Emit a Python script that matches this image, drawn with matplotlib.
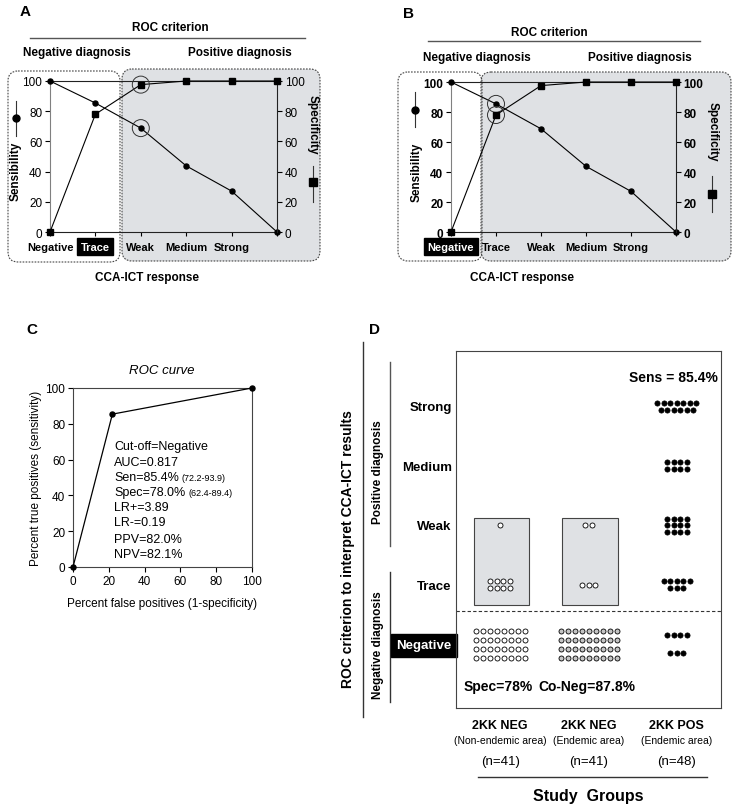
"""
CCA-ICT: ROC criterion panels (A, B), ROC curve (C) and dot plot by study group (D).
"""

import math

import matplotlib

matplotlib.use("Agg")
import matplotlib.pyplot as plt
import matplotlib.patches as mpatches
import numpy as np

plt.rcParams["font.family"] = ["Liberation Sans", "DejaVu Sans"]
plt.rcParams["axes.linewidth"] = 0.8

# ── Data ──
response = ["Negative", "Trace", "Weak", "Medium", "Strong"]
sens = [100, 85.4, 68.8, 43.8, 27.1, 0]
spec = [0, 78.0, 97.6, 100, 100, 100]

roc_fpr = [0, 22.0, 100]
roc_tpr = [0, 85.4, 100]
roc_stats = [
    ("Cut-off=Negative", ""),
    ("AUC=0.817", ""),
    ("Sen=85.4%", "(72.2-93.9)"),
    ("Spec=78.0%", "(62.4-89.4)"),
    ("LR+=3.89", ""),
    ("LR-=0.19", ""),
    ("PPV=82.0%", ""),
    ("NPV=82.1%", ""),
]

group_names = ["2KK NEG", "2KK NEG", "2KK POS"]
group_areas = ["(Non-endemic area)", "(Endemic area)", "(Endemic area)"]
group_n = [41, 41, 48]
# subjects per CCA-ICT response, Negative .. Strong
nonendemic_neg = [32, 8, 1, 0, 0]
endemic_neg = [36, 3, 2, 0, 0]
endemic_pos = [7, 8, 12, 8, 13]

# ── Figure / pixel helpers ──
W, H = 732, 812
fig = plt.figure(figsize=(W / 100, H / 100), dpi=100)
fig.patch.set_facecolor("white")

ov = fig.add_axes([0, 0, 1, 1])
ov.set_xlim(0, W)
ov.set_ylim(H, 0)
ov.axis("off")

GRAY = "#dfe1e4"
DARK = "#222222"


def px_rect(l, t, r, b):
    return [l / W, 1 - b / H, (r - l) / W, (b - t) / H]


def txt(x, y, s, **kw):
    kw.setdefault("ha", "center")
    kw.setdefault("va", "center")
    return ov.text(x, y, s, **kw)


def hline(x1, x2, y, color="#555555", lw=1.0):
    ov.plot([x1, x2], [y, y], color=color, lw=lw)


def dashed_box(l, t, r, b, fill):
    p = mpatches.FancyBboxPatch(
        (l, t), r - l, b - t,
        boxstyle="round,pad=0,rounding_size=10",
        fc=fill, ec="#444444", lw=0.8, ls=(0, (1.5, 1.2)),
    )
    ov.add_patch(p)


def side_legend(x, y1, y2, ym, marker, ms):
    ov.plot([x, x], [y1, y2], color="#333333", lw=0.8)
    ov.plot([x], [ym], marker=marker, color="black", ms=ms)


# ── Panels A / B ──
def response_panel(box, boxed, ring, bold_ticks):
    ax = fig.add_axes(px_rect(*box))
    ax.patch.set_visible(False)
    x = np.arange(len(sens))
    ax.plot(x, sens, color="black", lw=0.8, marker="o", ms=3.6,
            clip_on=False, zorder=3)
    ax2 = ax.twinx()
    ax2.plot(x, spec, color="black", lw=0.8, marker="s", ms=3.8,
             clip_on=False, zorder=3)

    ticks = list(range(0, 101, 20))
    fw = "bold" if bold_ticks else "normal"
    for a in (ax, ax2):
        a.set_xlim(0, len(sens) - 1)
        a.set_ylim(0, 100)
        a.set_yticks(ticks, labels=[str(t) for t in ticks],
                     fontsize=8.5, fontweight=fw)
        a.tick_params(axis="y", length=3.5, width=0.8, pad=2)

    ax.set_xticks(x, labels=response + [""], fontsize=8, fontweight="bold")
    ax.tick_params(axis="x", length=3, width=0.8, pad=4)
    lbl = ax.get_xticklabels()[boxed]
    lbl.set_color("white")
    lbl.set_bbox(dict(facecolor="black", edgecolor="black", pad=2.5))

    ax.spines["right"].set_visible(False)
    ax.spines["left"].set_color("#808080")
    ax.spines["top"].set_color(DARK)
    ax.spines["bottom"].set_color(DARK)
    for s in ("left", "top", "bottom"):
        ax2.spines[s].set_visible(False)
    ax2.spines["right"].set_color(DARK)

    # circles round the selected cut-off
    ax.scatter([ring], [sens[ring]], s=150, facecolors="none",
               edgecolors="#333333", lw=0.7, clip_on=False, zorder=4)
    ax2.scatter([ring], [spec[ring]], s=150, facecolors="none",
                edgecolors="#333333", lw=0.7, clip_on=False, zorder=4)


# background boxes first
dashed_box(122, 70, 320, 262, GRAY)
dashed_box(8, 72, 120, 263, "none")
dashed_box(481, 73, 731, 262, GRAY)
dashed_box(398, 73, 482, 262, "none")

response_panel((50, 82, 277, 233), boxed=1, ring=2, bold_ticks=False)
response_panel((451, 83, 676, 233), boxed=0, ring=1, bold_ticks=True)

HDR = dict(fontsize=8.5, fontweight="bold")
# A
txt(25, 12, "A", fontsize=11, fontweight="bold")
txt(170, 28, "ROC criterion", **HDR)
hline(30, 305, 39)
txt(77, 53, "Negative diagnosis", **HDR)
txt(240, 53, "Positive diagnosis", **HDR)
txt(147, 278, "CCA-ICT response", **HDR)
txt(16, 171, "Sensibility", rotation=90, **HDR)
side_legend(16, 102, 137, 119, "o", 5)
txt(313, 125, "Specificity", rotation=-90, **HDR)
side_legend(313, 167, 203, 183, "s", 6)
# B
txt(408, 14, "B", fontsize=11, fontweight="bold")
txt(549, 33, "ROC criterion", **HDR)
hline(428, 700, 42)
txt(477, 58, "Negative diagnosis", **HDR)
txt(640, 58, "Positive diagnosis", **HDR)
txt(522, 278, "CCA-ICT response", **HDR)
txt(417, 172, "Sensibility", rotation=90, **HDR)
side_legend(415, 93, 128, 111, "o", 5)
txt(713, 132, "Specificity", rotation=-90, **HDR)
side_legend(712, 177, 213, 195, "s", 6)

# ── Panel C: ROC curve ──
axc = fig.add_axes(px_rect(73, 389, 252, 568))
axc.patch.set_visible(False)
axc.plot(roc_fpr, roc_tpr, color="black", lw=0.9, marker="o", ms=3.6,
         clip_on=False, zorder=3)
axc.set_xlim(0, 100)
axc.set_ylim(0, 100)
axc.set_xticks(range(0, 101, 20))
axc.set_yticks(range(0, 101, 20))
axc.tick_params(length=3.5, width=0.8, pad=2, labelsize=8.5)
for s in axc.spines.values():
    s.set_color("#444444")

txt(32, 330, "C", fontsize=11, fontweight="bold")
txt(162, 371, "ROC curve", fontsize=9.5, fontstyle="italic")
txt(162, 604, "Percent false positives (1-specificity)", fontsize=8.5)
txt(36, 478, "Percent true positives (sensitivity)", fontsize=8.5, rotation=90)

stat_y = [447, 463, 478, 493, 508, 523, 540, 555]
for (main, ci), y in zip(roc_stats, stat_y):
    t = txt(114, y, main, fontsize=9, ha="left")
    if ci:
        ov.annotate(ci, xy=(1, 0.1), xycoords=t, xytext=(2, 0),
                    textcoords="offset points", fontsize=6.5, va="bottom")

# ── Panel D: dot plot ──
Y0, STEP = 645, 59.5  # px of "Negative" row, px per response level
axd = fig.add_axes(px_rect(456, 352, 721, 709))
axd.patch.set_visible(False)
axd.set_xlim(0, 3)
axd.set_ylim((Y0 - 709) / STEP, (Y0 - 352) / STEP)
axd.set_xticks([])
axd.set_yticks(range(len(response)), labels=response,
               fontsize=9.5, fontweight="bold")
axd.tick_params(axis="y", length=0, pad=3)
neg_lbl = axd.get_yticklabels()[0]
neg_lbl.set_color("white")
neg_lbl.set_bbox(dict(facecolor="black", edgecolor="black", pad=4))
for s in axd.spines.values():
    s.set_color("#444444")
axd.axhline(0.55, color="#333333", lw=0.8, ls=(0, (3, 2)))

PXX = 265 / 3  # px per group unit
PXY = STEP


def cluster(cx, cy, n, per_row, gap_x, gap_y, **kw):
    if n == 0:
        return
    rows = math.ceil(n / per_row)
    xs, ys = [], []
    left = n
    for r in range(rows):
        k = min(per_row, left)
        left -= k
        yy = cy + ((rows - 1) / 2 - r) * gap_y / PXY
        for j in range(k):
            xs.append(cx + (j - (k - 1) / 2) * gap_x / PXX)
            ys.append(yy)
    axd.scatter(xs, ys, clip_on=False, zorder=3, **kw)


OPEN = dict(s=13, facecolors="white", edgecolors="black", linewidths=0.6)
SHADE = dict(s=13, facecolors="#c4c4c4", edgecolors="black", linewidths=0.6)
SOLID = dict(s=14, facecolors="black", edgecolors="black", linewidths=0.5)

# shaded boxes around the false positives of the negative groups
for g in (0, 1):
    axd.add_patch(mpatches.Rectangle((g + 0.2, 0.66), 0.63, 1.46,
                                     fc=GRAY, ec="#444444", lw=0.8, zorder=1))

layout_g1 = [(8, 7, 9), (4, 6.5, 7), (4, 6.5, 7), (4, 6.5, 7), (4, 6.5, 7)]
layout_g2 = [(9, 7, 9), (4, 6.5, 7), (4, 6.5, 7), (4, 6.5, 7), (4, 6.5, 7)]
layout_g3 = [(4, 6.5, 18), (5, 6.5, 7), (4, 6.5, 6.5), (4, 6.5, 7), (7, 6.5, 7)]

for lvl, n in enumerate(nonendemic_neg):
    pr, gx, gy = layout_g1[lvl]
    cluster(0.5, lvl, n, pr, gx, gy, **OPEN)
for lvl, n in enumerate(endemic_neg):
    pr, gx, gy = layout_g2[lvl]
    style = SHADE if lvl == 0 else OPEN
    cluster(1.5, lvl, n, pr, gx, gy, **style)
for lvl, n in enumerate(endemic_pos):
    pr, gx, gy = layout_g3[lvl]
    cluster(2.5, lvl, n, pr, gx, gy, **SOLID)

sens_pct = 100 * (group_n[2] - endemic_pos[0]) / group_n[2]
spec_pct = 100 * nonendemic_neg[0] / group_n[0]
coneg_pct = 100 * endemic_neg[0] / group_n[1]
txt(673, 378, f"Sens = {sens_pct:.1f}%", fontsize=10, fontweight="bold")
txt(498, 687, f"Spec={spec_pct:.0f}%", fontsize=10, fontweight="bold")
txt(587, 687, f"Co-Neg={coneg_pct:.1f}%", fontsize=10, fontweight="bold")

for g, (name, area, n) in enumerate(zip(group_names, group_areas, group_n)):
    gx = 456 + (g + 0.5) * PXX
    txt(gx, 726, name, fontsize=9, fontweight="bold")
    txt(gx, 741, area, fontsize=7.5)
    txt(gx, 762, f"(n={n})", fontsize=9.5)
hline(478, 707, 778, color="#333333")
txt(588, 797, "Study  Groups", fontsize=11.5, fontweight="bold")

txt(375, 330, "D", fontsize=11, fontweight="bold")
txt(348, 549, "ROC criterion to interpret CCA-ICT results",
    fontsize=10, fontweight="bold", rotation=90)
ov.plot([363, 363], [343, 718], color="#333333", lw=1.0)
txt(378, 472, "Positive diagnosis", fontsize=8.5, fontweight="bold", rotation=90)
ov.plot([390, 390], [363, 547], color="#555555", lw=1.0)
txt(378, 645, "Negative diagnosis", fontsize=8.5, fontweight="bold", rotation=90)
ov.plot([390, 390], [573, 703], color="#333333", lw=1.0)

fig.savefig("out.png", dpi=100, facecolor=fig.get_facecolor())
